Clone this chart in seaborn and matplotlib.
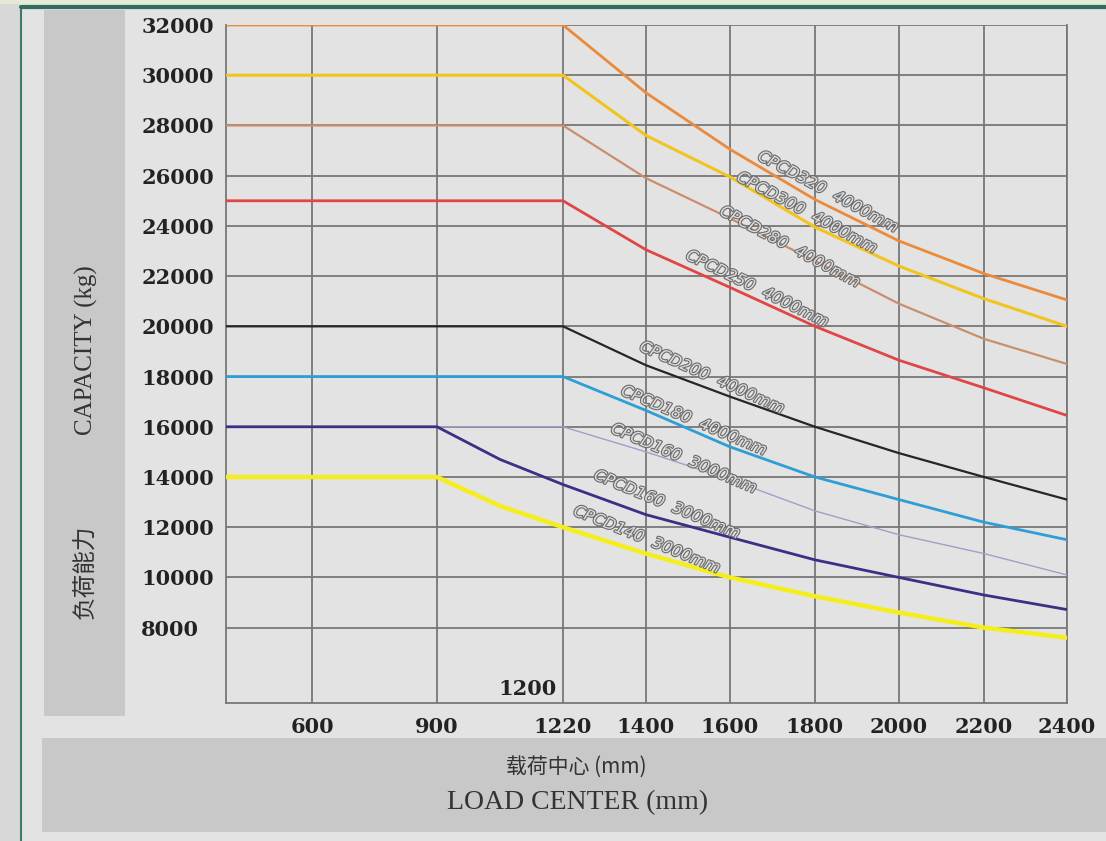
import numpy as np
import pandas as pd
import matplotlib
matplotlib.use("Agg")
import matplotlib.pyplot as plt
import matplotlib.patheffects as pe
from matplotlib.patches import Rectangle
import seaborn as sns

load_long = [400, 600, 900, 1220, 1400, 1600, 1800, 2000, 2200, 2400]
load_short = [400, 600, 900, 1060, 1220, 1400, 1600, 1800, 2000, 2200, 2400]

cpcd320 = [32000, 32000, 32000, 32000, 29300, 27050, 25050, 23400, 22100, 21050]
cpcd300 = [30000, 30000, 30000, 30000, 27600, 25950, 23950, 22400, 21100, 20000]
cpcd280 = [28000, 28000, 28000, 28000, 25900, 24300, 22600, 20900, 19500, 18500]
cpcd250 = [25000, 25000, 25000, 25000, 23050, 21550, 20000, 18650, 17550, 16450]
cpcd200 = [20000, 20000, 20000, 20000, 18450, 17200, 16000, 14950, 14000, 13100]
cpcd180 = [18000, 18000, 18000, 18000, 16650, 15200, 14000, 13100, 12200, 11500]
cpcd160a = [16000, 16000, 16000, 16000, 15000, 13900, 12650, 11700, 10950, 10100]
cpcd160b = [16000, 16000, 16000, 14700, 13700, 12500, 11600, 10700, 10000, 9300, 8720]
cpcd140 = [14000, 14000, 14000, 12850, 12000, 10950, 10000, 9250, 8600, 8000, 7600]

curve_labels = ["CPCD320  4000mm", "CPCD300  4000mm", "CPCD280  4000mm",
                "CPCD250  4000mm", "CPCD200  4000mm", "CPCD180  4000mm",
                "CPCD160  3000mm", "CPCD160  3000mm", "CPCD140  3000mm"]

x_ticks = [600, 900, 1220, 1400, 1600, 1800, 2000, 2200, 2400]
y_ticks = list(range(8000, 32001, 2000))

# irregular x axis: the chart spaces 600/900/1220 wider than the rest
knot_mm = [400, 600, 900, 1220, 1400, 1600, 1800, 2000, 2200, 2400]
knot_px = [226, 312, 437, 563, 646, 730, 815, 899, 984, 1067]


def fwd(x):
    return np.interp(x, knot_mm, knot_px)


def inv(p):
    return np.interp(p, knot_px, knot_mm)


series = [
    (load_long, cpcd320, "#ec8a3c", 2.0),
    (load_long, cpcd300, "#f2c41e", 2.2),
    (load_long, cpcd280, "#c98f6c", 1.6),
    (load_long, cpcd250, "#e04646", 2.0),
    (load_long, cpcd200, "#262626", 1.6),
    (load_long, cpcd180, "#2d9ed6", 2.0),
    (load_long, cpcd160a, "#a29ec9", 1.0),
    (load_short, cpcd160b, "#3b2f86", 2.0),
    (load_short, cpcd140, "#f6ee1c", 3.2),
]

sns.set_theme(style="white")
plt.rcParams["font.family"] = ["DejaVu Serif", "Noto Sans CJK SC"]

bg = "#e3e3e3"
fig = plt.figure(figsize=(11.06, 8.41), dpi=100, facecolor=bg)

# frame decorations of the original page
fig.patches.append(Rectangle((0, 0), 20 / 1106, 1, transform=fig.transFigure,
                             facecolor="#d8d8d8", edgecolor="none", zorder=0))
fig.lines.append(plt.Line2D([21 / 1106, 21 / 1106], [0, 1 - 8 / 841],
                            transform=fig.transFigure, color="#3e7a6a", lw=1.5))
fig.patches.append(Rectangle((0, 1 - 4 / 841), 1, 4 / 841, transform=fig.transFigure,
                             facecolor="#e4ead6", edgecolor="none", zorder=0))
fig.lines.append(plt.Line2D([21 / 1106, 1], [1 - 7 / 841, 1 - 7 / 841],
                            transform=fig.transFigure, color="#2f6d5e", lw=3))
fig.patches.append(Rectangle((44 / 1106, 1 - 716 / 841), 81 / 1106, 706 / 841,
                             transform=fig.transFigure, facecolor="#c8c8c8",
                             edgecolor="none", zorder=0))
fig.patches.append(Rectangle((42 / 1106, 1 - 832 / 841), 1.0, 94 / 841,
                             transform=fig.transFigure, facecolor="#c8c8c8",
                             edgecolor="none", zorder=0))

ax = fig.add_axes([226 / 1106, 1 - 703 / 841, 841 / 1106, 678 / 841])
ax.set_facecolor(bg)
ax.set_xscale("function", functions=(fwd, inv))

for xs, ys, col, lw in series:
    df = pd.DataFrame({"load": xs, "capacity": ys})
    sns.lineplot(data=df, x="load", y="capacity", ax=ax, color=col, lw=lw,
                 sort=False, zorder=3)

ax.set_xlim(400, 2400)
ax.set_ylim(5000, 32000)
ax.set_xticks(x_ticks)
ax.set_xticklabels([str(v) for v in x_ticks])
ax.set_yticks(y_ticks)
ax.set_yticklabels([str(v) for v in y_ticks])
ax.grid(True, color="#777777", lw=1.3, zorder=1)
ax.set_axisbelow(True)
for s in ax.spines.values():
    s.set_color("#777777")
    s.set_linewidth(1.3)
ax.spines["top"].set_visible(False)
ax.set_xlabel("")
ax.set_ylabel("")
ax.tick_params(axis="x", length=0, pad=10, labelsize=15, colors="#222222")
ax.tick_params(axis="y", length=0, pad=61, labelsize=15, colors="#222222")
for t in ax.get_xticklabels() + ax.get_yticklabels():
    t.set_fontweight("bold")
for t in ax.get_yticklabels():
    t.set_horizontalalignment("left")

ax.text(1205, 5150, "1200", ha="right", va="bottom", fontsize=15,
        fontweight="bold", color="#222222")

# rotated curve names
label_pos = [(1831, 25350, -28), (1781, 24520, -28), (1741, 23160, -28),
             (1664, 21490, -26), (1557, 17950, -24), (1514, 16240, -23),
             (1490, 14730, -23), (1450, 12900, -22.5), (1402, 11500, -22)]
for txt, (lx, ly, rot) in zip(curve_labels, label_pos):
    ax.text(lx, ly, txt, rotation=rot, rotation_mode="anchor", ha="center",
            va="center", fontsize=11.5, style="italic", color="#dcdcdc",
            family="DejaVu Sans", zorder=4,
            path_effects=[pe.withStroke(linewidth=1.6, foreground="#6a6a6a")])

# axis titles in the grey boxes
fig.text(86 / 1106, 1 - 572 / 841, "负荷能力", rotation=90, ha="center",
         va="center", fontsize=17, color="#333333",
         family=["Noto Sans CJK SC", "DejaVu Sans"])
fig.text(86 / 1106, 1 - 350 / 841, "CAPACITY (kg)", rotation=90, ha="center",
         va="center", fontsize=18, color="#333333", family="Liberation Serif")
fig.text(576 / 1106, 1 - 767 / 841, "载荷中心 (mm)", ha="center", va="center",
         fontsize=15, color="#333333", family=["Noto Sans CJK SC", "DejaVu Sans"])
fig.text(578 / 1106, 1 - 803 / 841, "LOAD CENTER (mm)", ha="center", va="center",
         fontsize=20, color="#333333", family="Liberation Serif")

fig.savefig("out.png", dpi=100, facecolor=bg)
